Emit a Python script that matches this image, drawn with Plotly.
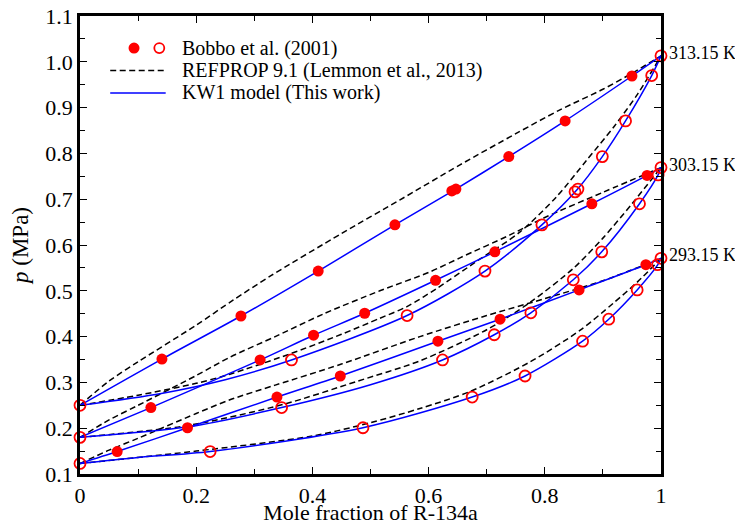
import plotly.graph_objects as go

# ---------------- data ----------------
temps = ["313.15 K", "303.15 K", "293.15 K"]
pure_x0_p = [0.250, 0.180, 0.123]   # x = 0 side
pure_x1_p = [1.013, 0.769, 0.571]   # pure R-134a side (x = 1)

# Bobbo et al. (2001) experimental points
b313_bub_x = [0.141, 0.277, 0.410, 0.542, 0.640, 0.647, 0.738, 0.835, 0.950]
b313_bub_p = [0.351, 0.445, 0.543, 0.644, 0.718, 0.722, 0.793, 0.871, 0.969]
b313_dew_x = [0.364, 0.563, 0.697, 0.795, 0.852, 0.857, 0.899, 0.939, 0.984]
b313_dew_p = [0.349, 0.446, 0.543, 0.644, 0.716, 0.722, 0.793, 0.871, 0.970]
b303_bub_x = [0.122, 0.310, 0.402, 0.490, 0.612, 0.714, 0.881, 0.976]
b303_bub_p = [0.245, 0.349, 0.403, 0.451, 0.523, 0.585, 0.690, 0.752]
b303_dew_x = [0.347, 0.624, 0.713, 0.776, 0.849, 0.898, 0.963, 0.995]
b303_dew_p = [0.245, 0.349, 0.404, 0.452, 0.524, 0.585, 0.690, 0.753]
b293_bub_x = [0.064, 0.185, 0.339, 0.448, 0.616, 0.723, 0.859, 0.974]
b293_bub_p = [0.149, 0.201, 0.268, 0.314, 0.390, 0.438, 0.502, 0.557]
b293_dew_x = [0.224, 0.487, 0.675, 0.766, 0.865, 0.910, 0.959, 0.994]
b293_dew_p = [0.149, 0.201, 0.268, 0.314, 0.390, 0.438, 0.502, 0.557]

# KW1 model curves
kw313_bub_x = [0, 0.141, 0.277, 0.410, 0.542, 0.644, 0.738, 0.835, 0.950, 1]
kw313_bub_p = [0.250, 0.351, 0.445, 0.543, 0.644, 0.720, 0.793, 0.871, 0.969, 1.013]
kw313_dew_x = [0, 0.140, 0.250, 0.364, 0.563, 0.697, 0.795, 0.855, 0.899, 0.939, 0.984, 1]
kw313_dew_p = [0.250, 0.276, 0.306, 0.349, 0.446, 0.543, 0.644, 0.720, 0.793, 0.871, 0.970, 1.013]
kw303_bub_x = [0, 0.122, 0.310, 0.402, 0.490, 0.612, 0.714, 0.881, 0.976, 1]
kw303_bub_p = [0.180, 0.245, 0.349, 0.403, 0.451, 0.523, 0.585, 0.690, 0.752, 0.769]
kw303_dew_x = [0, 0.186, 0.347, 0.500, 0.624, 0.713, 0.776, 0.849, 0.898, 0.963, 0.995, 1]
kw303_dew_p = [0.180, 0.203, 0.245, 0.295, 0.349, 0.404, 0.452, 0.524, 0.585, 0.690, 0.753, 0.769]
kw293_bub_x = [0, 0.064, 0.185, 0.339, 0.448, 0.616, 0.723, 0.859, 0.974, 1]
kw293_bub_p = [0.123, 0.149, 0.201, 0.268, 0.314, 0.390, 0.438, 0.502, 0.557, 0.571]
kw293_dew_x = [0, 0.100, 0.224, 0.487, 0.675, 0.766, 0.865, 0.910, 0.959, 0.994, 1]
kw293_dew_p = [0.123, 0.136, 0.149, 0.201, 0.268, 0.314, 0.390, 0.438, 0.502, 0.556, 0.571]

# REFPROP 9.1 curves
rp313_bub_x = [0, 0.05, 0.10, 0.20, 0.264, 0.33, 0.45, 0.55, 0.654, 0.75, 0.826, 0.90, 0.95, 1]
rp313_bub_p = [0.250, 0.303, 0.345, 0.425, 0.480, 0.534, 0.625, 0.698, 0.775, 0.843, 0.895, 0.940, 0.975, 1.013]
rp313_dew_x = [0, 0.10, 0.20, 0.258, 0.361, 0.45, 0.516, 0.562, 0.614, 0.688, 0.757, 0.82, 0.872, 0.92, 0.96, 1]
rp313_dew_p = [0.250, 0.272, 0.298, 0.318, 0.362, 0.405, 0.440, 0.465, 0.505, 0.569, 0.628, 0.705, 0.785, 0.860, 0.930, 1.013]
rp303_bub_x = [0, 0.05, 0.10, 0.20, 0.258, 0.336, 0.42, 0.516, 0.60, 0.654, 0.74, 0.80, 0.90, 1]
rp303_bub_p = [0.180, 0.218, 0.250, 0.315, 0.355, 0.400, 0.450, 0.500, 0.540, 0.572, 0.622, 0.660, 0.715, 0.769]
rp303_dew_x = [0, 0.186, 0.35, 0.476, 0.585, 0.70, 0.775, 0.85, 0.90, 0.95, 1]
rp303_dew_p = [0.180, 0.206, 0.252, 0.302, 0.347, 0.415, 0.475, 0.550, 0.615, 0.690, 0.769]
rp293_bub_x = [0, 0.05, 0.10, 0.20, 0.258, 0.336, 0.45, 0.585, 0.70, 0.80, 0.90, 1]
rp293_bub_p = [0.123, 0.152, 0.178, 0.232, 0.262, 0.294, 0.340, 0.400, 0.446, 0.483, 0.522, 0.571]
rp293_dew_x = [0, 0.20, 0.40, 0.50, 0.585, 0.671, 0.775, 0.861, 0.918, 0.96, 1]
rp293_dew_p = [0.123, 0.150, 0.183, 0.212, 0.243, 0.280, 0.345, 0.414, 0.473, 0.520, 0.571]

x_tickvals = [0, 0.2, 0.4, 0.6, 0.8, 1.0]
x_ticktext = ["0", "0.2", "0.4", "0.6", "0.8", "1"]
y_tickvals = [0.1, 0.2, 0.3, 0.4, 0.5, 0.6, 0.7, 0.8, 0.9, 1.0, 1.1]
y_ticktext = ["0.1", "0.2", "0.3", "0.4", "0.5", "0.6", "0.7", "0.8", "0.9", "1.0", "1.1"]

legend_labels = ["Bobbo et al. (2001)", "REFPROP 9.1 (Lemmon et al., 2013)", "KW1 model (This work)"]

# ---------------- styles ----------------
RED = "#ff0000"
BLUE = "#0000ff"
FONT = "Liberation Serif"
DASH = "6px,3.5px"

fig = go.Figure()

rp_curves = [(rp313_bub_x, rp313_bub_p), (rp313_dew_x, rp313_dew_p),
             (rp303_bub_x, rp303_bub_p), (rp303_dew_x, rp303_dew_p),
             (rp293_bub_x, rp293_bub_p), (rp293_dew_x, rp293_dew_p)]
for xs, ps in rp_curves:
    fig.add_trace(go.Scatter(x=xs, y=ps, mode="lines",
                             line=dict(color="black", width=1.5, dash=DASH, shape="spline", smoothing=0.8),
                             showlegend=False, hoverinfo="skip"))

kw_curves = [(kw313_bub_x, kw313_bub_p), (kw313_dew_x, kw313_dew_p),
             (kw303_bub_x, kw303_bub_p), (kw303_dew_x, kw303_dew_p),
             (kw293_bub_x, kw293_bub_p), (kw293_dew_x, kw293_dew_p)]
for xs, ps in kw_curves:
    fig.add_trace(go.Scatter(x=xs, y=ps, mode="lines",
                             line=dict(color=BLUE, width=1.5, shape="spline", smoothing=0.8),
                             showlegend=False, hoverinfo="skip"))

# filled (bubble) points
for xs, ps in [(b313_bub_x, b313_bub_p), (b303_bub_x, b303_bub_p), (b293_bub_x, b293_bub_p)]:
    fig.add_trace(go.Scatter(x=xs, y=ps, mode="markers", cliponaxis=False,
                             marker=dict(symbol="circle", size=11, color=RED, line=dict(width=0)),
                             showlegend=False))

# open (dew + pure) points
for xs, ps in [(b313_dew_x, b313_dew_p), (b303_dew_x, b303_dew_p), (b293_dew_x, b293_dew_p),
               ([0] * len(pure_x0_p), pure_x0_p), ([1] * len(pure_x1_p), pure_x1_p)]:
    fig.add_trace(go.Scatter(x=xs, y=ps, mode="markers", cliponaxis=False,
                             marker=dict(symbol="circle-open", size=11, color=RED, line=dict(width=1.8, color=RED)),
                             showlegend=False))

# temperature labels
for t, p in zip(temps, pure_x1_p):
    fig.add_annotation(x=1, y=p, xref="x", yref="y", text=t, showarrow=False,
                       xanchor="left", yanchor="middle", xshift=6, yshift=3,
                       font=dict(family=FONT, size=18, color="black"))

# ---------------- manual legend ----------------
rows_y = [0.930, 0.881, 0.832]
shapes = []
shapes.append(dict(type="circle", xref="paper", yref="paper", xsizemode="pixel", ysizemode="pixel",
                   xanchor=0.093, yanchor=rows_y[0], x0=-5.5, x1=5.5, y0=-5.5, y1=5.5,
                   fillcolor=RED, line=dict(width=0)))
shapes.append(dict(type="circle", xref="paper", yref="paper", xsizemode="pixel", ysizemode="pixel",
                   xanchor=0.1365, yanchor=rows_y[0], x0=-5, x1=5, y0=-5, y1=5,
                   fillcolor="rgba(0,0,0,0)", line=dict(width=1.8, color=RED)))
shapes.append(dict(type="line", xref="paper", yref="paper", x0=0.052, x1=0.1475,
                   y0=rows_y[1], y1=rows_y[1], line=dict(color="black", width=1.5, dash=DASH)))
shapes.append(dict(type="line", xref="paper", yref="paper", x0=0.052, x1=0.1475,
                   y0=rows_y[2], y1=rows_y[2], line=dict(color=BLUE, width=1.5)))
for lab, yy in zip(legend_labels, rows_y):
    fig.add_annotation(x=0.172, y=yy, xref="paper", yref="paper", text=lab, showarrow=False,
                       xanchor="left", yanchor="middle", font=dict(family=FONT, size=20, color="black"))

# The page body has an 8px margin, so the figure is sized/offset to compensate.
fig.update_layout(
    width=735, height=517, autosize=False,
    margin=dict(l=72, r=82, t=8, b=51, autoexpand=False),
    paper_bgcolor="white", plot_bgcolor="white",
    shapes=shapes,
    font=dict(family=FONT, color="black"),
    showlegend=False,
)
fig.update_xaxes(range=[0, 1], tickvals=x_tickvals, ticktext=x_ticktext, automargin=False,
                 ticklabeloverflow="allow",
                 showgrid=False, zeroline=False, showline=True, linecolor="black", linewidth=2.5,
                 mirror="allticks", ticks="inside", ticklen=7, tickwidth=1, tickcolor="black",
                 minor=dict(dtick=0.1, tick0=0, ticks="inside", ticklen=5, tickcolor="black", showgrid=False),
                 tickfont=dict(family=FONT, size=22, color="black"),
                 title=dict(text="Mole fraction of R-134a", font=dict(family=FONT, size=22, color="black"), standoff=6))
fig.update_yaxes(range=[0.1, 1.1], tickvals=y_tickvals, ticktext=y_ticktext, automargin=False,
                 ticklabeloverflow="allow",
                 showgrid=False, zeroline=False, showline=True, linecolor="black", linewidth=2.5,
                 mirror="allticks", ticks="inside", ticklen=7, tickwidth=1, tickcolor="black",
                 minor=dict(dtick=0.05, tick0=0.1, ticks="inside", ticklen=5, tickcolor="black", showgrid=False),
                 tickfont=dict(family=FONT, size=22, color="black"),
                 title=dict(text="<i>p</i> (MPa)", font=dict(family=FONT, size=23, color="black"), standoff=24))

fig.write_html("out.html")
